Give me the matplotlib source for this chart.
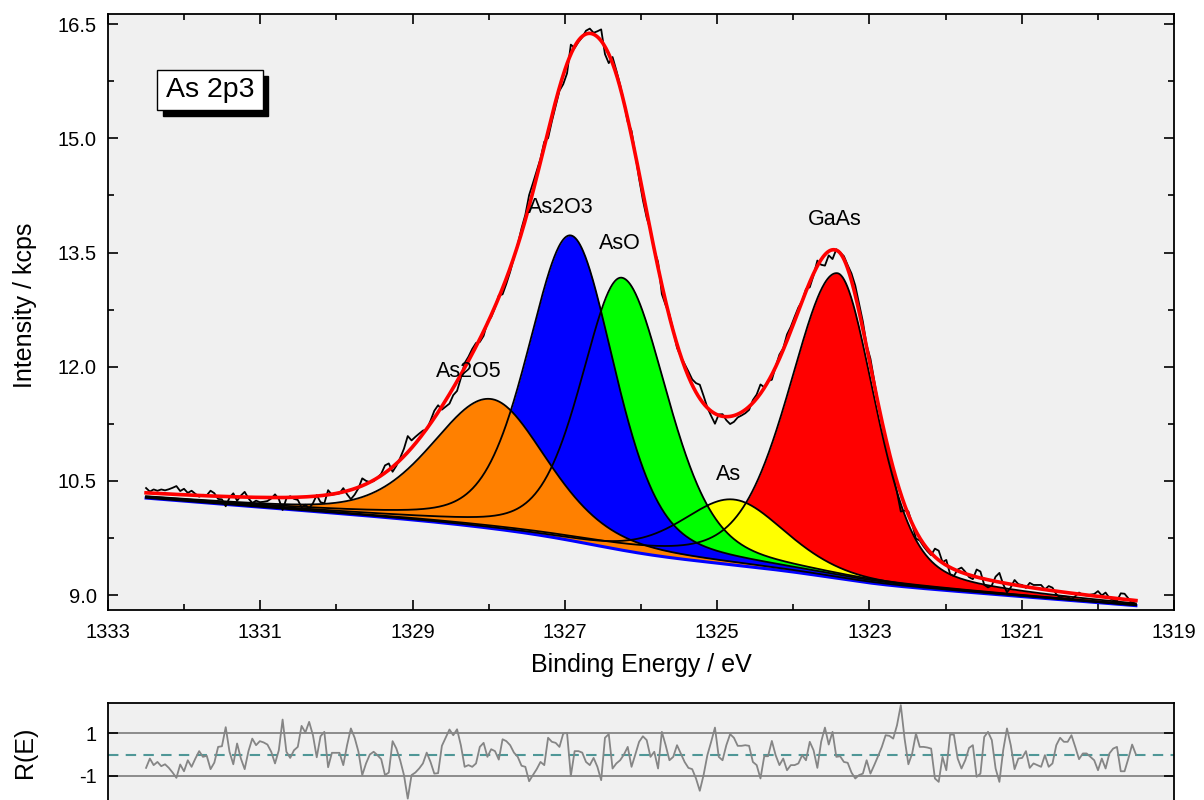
import numpy as np
import matplotlib
matplotlib.use("Agg")
import matplotlib.pyplot as plt
from matplotlib.patches import Rectangle
from matplotlib.ticker import MultipleLocator, FixedLocator

plt.rcParams['font.family'] = ['Liberation Sans', 'DejaVu Sans']

# ---- fitted components ----
names = ["As2O5", "As2O3", "AsO", "As", "GaAs"]
centers = [1327.97, 1326.92, 1326.25, 1324.78, 1323.42]
heights = [1.70, 4.01, 3.58, 0.86, 4.01]
hw_high = [0.92, 0.67, 0.63, 0.80, 0.75]   # half width on high-BE side
hw_low = [0.86, 0.67, 0.70, 0.80, 0.58]    # half width on low-BE side
lor_frac = [0.35, 0.35, 0.35, 0.35, 0.35]
colors = ["#ff8000", "#0000ff", "#00ff00", "#ffff00", "#ff0000"]

# label anchor positions (energy, intensity)
label_E = [1328.26, 1327.06, 1326.28, 1324.85, 1323.46]
label_I = [11.94, 14.09, 13.62, 10.59, 13.93]

# background (Shirley + linear)
bg_end = 8.86
bg_slope = 0.078
bg_step = 0.40

# residuals R(E)
resid = [
    -0.63, -0.19, -0.50, -0.35, -0.55, -0.46, -0.63, -0.85, -1.10, -0.47,
    -0.79, -0.27, -0.58, -0.19, 0.16, -0.11, -0.06, -0.69, -0.38, 0.36,
    0.39, 1.29, 0.13, -0.46, 0.52, -0.19, -0.69, 0.16, 0.75, 0.44,
    0.63, 0.57, 0.47, 0.13, -0.42, 0.20, 1.65, 0.13, -0.16, 0.20,
    0.36, 1.35, 1.04, 1.54, 0.91, -0.13, 0.86, 1.07, -0.60, 0.08,
    0.08, 0.08, -0.50, 0.44, 1.23, 0.79, 0.13, -0.97, -0.42, 0.00,
    0.13, -0.03,
    -0.22, -0.97, -0.85, 0.63, 0.28, -0.27, -0.97, -2.08, -0.97, -0.85,
    -0.66, -0.42, 0.09, -0.35, -0.90, -0.88, 0.41, 0.79, 1.18, 0.91,
    1.19, 0.44, -0.58, -0.50, -0.58, -0.42, 0.36, 0.55, -0.11, 0.25,
    0.16, -0.24, 0.72, 0.63, 0.44, 0.09, -0.11, -0.53, -0.58, -1.26,
    -0.97, -0.69, -0.35, -0.50, 0.79, 0.60, 0.55, 0.36, 0.99, 1.02,
    -1.01, 0.16, 0.16, 0.09, -0.35, -0.50, -0.16, -0.58, -1.21, 0.79,
    0.96, -0.66, -0.42, -0.27, 0.00, 0.36, -0.58, 0.00, 0.60, 0.86,
    0.68, -0.11,
    0.13, -0.66, 1.07, 0.44, -0.27, -0.11, 0.44, 0.05, -0.35, -0.63,
    -0.69, -1.13, -1.71, -0.97, -0.03, 0.60, 1.27, -0.11, -0.27, 0.44,
    0.96, 0.79, 0.41, 0.41, 0.44, 0.41, -0.35, -0.50, -1.13, -0.08,
    -0.08, 0.64, -0.03, -0.50, -0.19, -0.74, -0.50, -0.50, -0.42, -0.03,
    -0.27, 0.60, 0.20, -0.63, 0.60, 1.27, 0.47, 1.07, -0.11, -0.08,
    -0.35, -0.39, -0.85, -1.13, -0.97, -0.90, -0.27, -0.90, -0.50, -0.08,
    0.36, 0.91, 0.88, 0.75, 1.38, 2.33, 0.75, -0.46, 0.05, 0.99,
    0.36,
    0.36, 0.33, 0.28, -1.13, -1.29, -0.11, -0.74, 0.94, 0.94, -0.19,
    -0.66, -0.27, 0.31, 0.44, -1.05, -0.90, 0.83, 1.07, 0.68, -0.66,
    -1.29, 0.20, 1.23, 0.44, -0.69, -0.19, -0.16, 0.16, -0.63, -0.42,
    -0.50, -0.58, -0.03, -0.58, -0.42, 0.44, 0.79, 0.60, 0.60, 0.91,
    0.36, -0.22, 0.05, 0.05, -0.11, -0.27, -0.74, -0.19, -0.66, 0.05,
    0.28, 0.36, -0.79, -0.79, -0.19, 0.47, 0.00,
]
E_start, E_end = 1332.5, 1319.5
noise_scale = 0.031   # kcps per sqrt(kcps)

x_ticks = [1333, 1331, 1329, 1327, 1325, 1323, 1321, 1319]
y_ticks = [9.0, 10.5, 12.0, 13.5, 15.0, 16.5]


def gl(E, c, h, wh, wl, m):
    w = np.where(E >= c, wh, wl)
    x = (E - c) / w
    return h * ((1 - m) * np.exp(-np.log(2) * x ** 2) + m / (1 + x ** 2))


def model(E):
    comps = [gl(E, centers[i], heights[i], hw_high[i], hw_low[i], lor_frac[i])
             for i in range(len(names))]
    total = np.sum(comps, axis=0)
    # E is descending: integrate from the low-BE end
    cum = np.cumsum(total[::-1])[::-1]
    S = (cum - cum[-1]) / (cum[0] - cum[-1])
    bg = bg_end + bg_slope * (E - E_end) + bg_step * S
    return comps, bg


Ef = np.linspace(E_start, E_end, 1301)
comps, bg = model(Ef)
env = bg + np.sum(comps, axis=0)

E = np.linspace(E_start, E_end, len(resid))
env_d = np.interp(E[::-1], Ef[::-1], env[::-1])[::-1]
data = env_d - np.array(resid) * noise_scale * np.sqrt(env_d)

W, H = 1204, 800
fig = plt.figure(figsize=(W / 100, H / 100), dpi=100)
ax = fig.add_axes([108 / W, 1 - 610 / H, 1066 / W, 596 / H])
ax.set_facecolor('#f0f0f0')

for i in reversed(range(len(names))):
    ax.fill_between(Ef, bg, bg + comps[i], color=colors[i], lw=0, zorder=2)
ax.plot(Ef, bg, color='#0000ff', lw=2.2, zorder=3)
for i in range(len(names)):
    ax.plot(Ef, bg + comps[i], color='black', lw=1.3, zorder=4)
ax.plot(E, data, color='black', lw=1.3, zorder=5)
ax.plot(Ef, env, color='#ff0000', lw=2.6, zorder=6)

for i in range(len(names)):
    ax.text(label_E[i], label_I[i], names[i], ha='center', va='center',
            fontsize=15.5, zorder=7)

ax.set_xlim(1333, 1319)
ax.set_ylim(8.803, 16.635)
ax.xaxis.set_major_locator(FixedLocator(x_ticks))
ax.xaxis.set_minor_locator(MultipleLocator(1))
ax.yaxis.set_major_locator(FixedLocator(y_ticks))
ax.yaxis.set_minor_locator(MultipleLocator(0.75))
ax.set_xticklabels([str(t) for t in x_ticks])
ax.set_yticklabels([f"{t:.1f}" for t in y_ticks])
ax.tick_params(which='both', direction='in', top=True, right=True,
               width=1.2, labelsize=14.5)
ax.tick_params(which='major', length=7)
ax.tick_params(which='minor', length=4)
ax.tick_params(axis='x', pad=9)
ax.tick_params(axis='y', pad=8)
for s in ax.spines.values():
    s.set_linewidth(1.3)

# sample label box with shadow
fig.patches.append(Rectangle((163 / W, 1 - 116 / H), 105 / W, 40 / H,
                             transform=fig.transFigure, facecolor='black',
                             edgecolor='black', zorder=10))
fig.patches.append(Rectangle((157 / W, 1 - 110 / H), 106 / W, 40 / H,
                             transform=fig.transFigure, facecolor='white',
                             edgecolor='black', lw=1.0, zorder=11))
fig.text(210 / W, 1 - 90 / H, "As 2p3", ha='center', va='center',
         fontsize=20.5, zorder=12)

fig.text(25 / W, 1 - 305 / H, "Intensity / kcps", rotation=90,
         ha='center', va='center', fontsize=18)
fig.text(641 / W, 1 - 665 / H, "Binding Energy / eV", ha='center',
         va='center', fontsize=18)

# residual panel
rax = fig.add_axes([108 / W, 1 - 830 / H, 1066 / W, 127 / H])
rax.set_facecolor('#f0f0f0')
rax.set_xlim(1333, 1319)
rax.set_ylim(-3.56, 2.43)
rax.axhline(1, color='#8c8c8c', lw=1.4, zorder=1)
rax.axhline(-1, color='#8c8c8c', lw=1.4, zorder=1)
rax.axhline(0, color='#4f9797', lw=1.5, ls=(0, (5, 3.5)), zorder=2)
rax.plot(E, resid, color='#858585', lw=1.3, zorder=3)
rax.set_xticks([])
rax.set_yticks([1, -1])
rax.set_yticklabels(["1", "-1"])
rax.tick_params(axis='y', direction='in', right=True, length=7, width=1.2,
                labelsize=14.5, pad=8)
for s in rax.spines.values():
    s.set_linewidth(1.3)
fig.text(25 / W, 1 - 752 / H, "R(E)", rotation=90, ha='center',
         va='center', fontsize=18)

fig.savefig("out.png", dpi=100)
